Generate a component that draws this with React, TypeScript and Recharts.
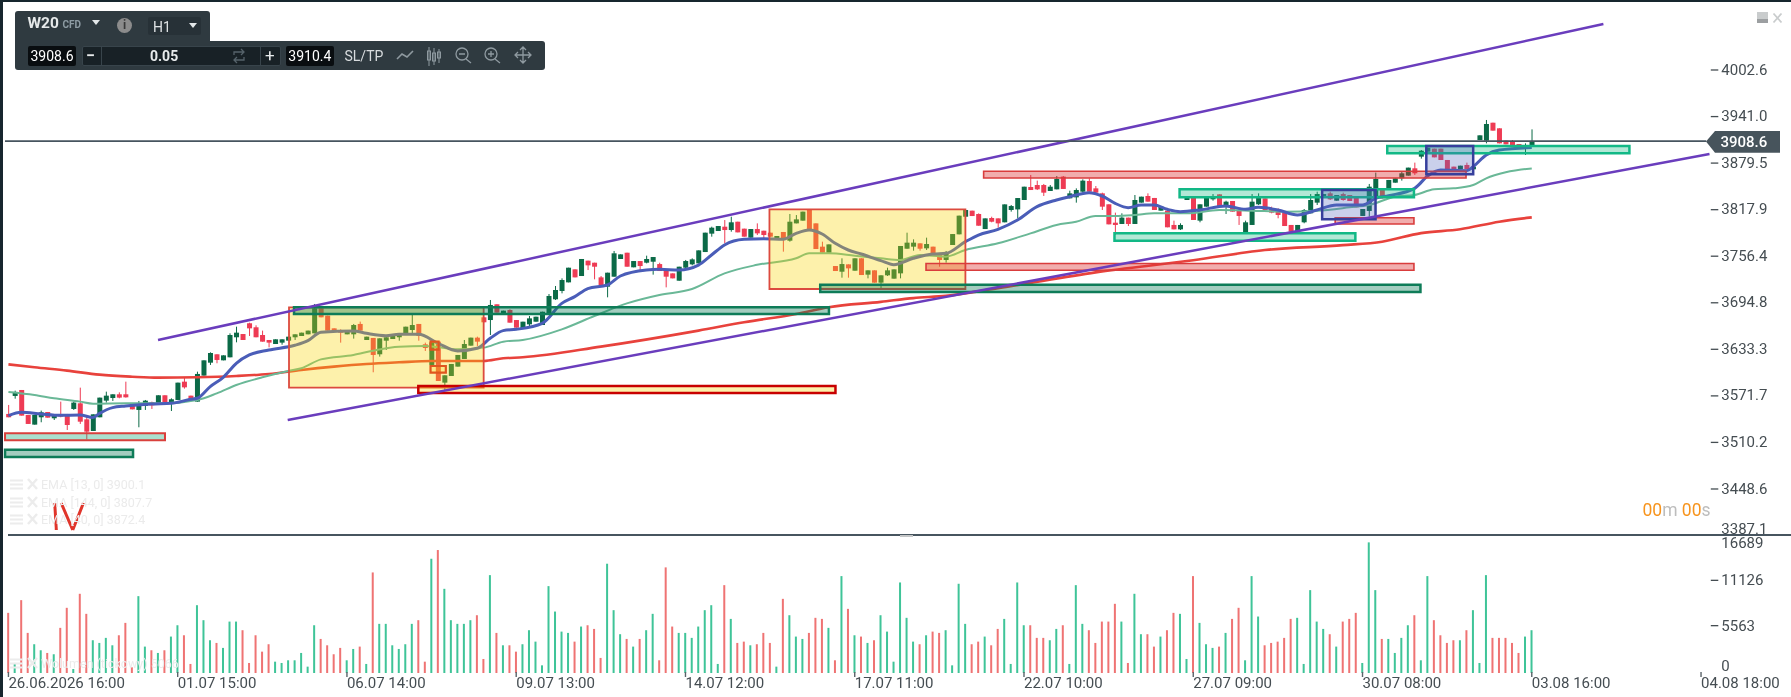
import React from 'react';
import { ComposedChart, Bar, Line, XAxis, YAxis, ReferenceArea, ReferenceLine } from 'recharts';

// Candle bodies and wicks, one value per hourly bar.
const bodyTops = [
3547.8,3576.9,3579.5,3546.5,3546.5,3550,3550.4,3545.1,3547.3,3546.5,
3562.8,3561.9,3540.7,3547.3,3569.4,3572,3573.8,3573.8,3573.8,3561.4,
3561.9,3565.4,3563.2,3572.5,3572.5,3567.2,3589.2,3590.5,3572,3600.7,
3618.7,3628.4,3626.7,3625.3,3652.2,3655.3,3653.5,3667.7,3662.4,3652.2,
3645.6,3646.5,3646.5,3650,3653.1,3655.3,3658,3687.5,3687.5,3677.8,
3661,3658,3658.8,3665.4,3666.8,3650,3648.3,3647.8,3649.2,3652.2,
3654.4,3663.2,3665.4,3666.8,3639.9,3642.5,3643.4,3598.9,3613.9,3625.8,
3640.3,3648.7,3648.7,3675.6,3691.9,3692.8,3684.4,3685.3,3672,3669.8,
3674.2,3676.4,3683,3703.8,3711.7,3724.9,3741.2,3739,3752.7,3750.5,
3747.8,3728.4,3734.6,3760.2,3758.8,3761,3750,3750,3752.7,3755.3,
3746,3738.1,3733.7,3742.5,3750,3752.2,3764.1,3787.5,3794.1,3796.3,
3795.4,3801.2,3802,3792.8,3792.3,3792.3,3790.1,3787.5,3783.1,3788.4,
3802,3805.1,3815.3,3817.5,3799.8,3769,3772,3743.4,3746,3745.6,
3753.6,3753.6,3737.7,3737.7,3731.1,3737.7,3739,3769.9,3774.3,3774.3,
3773.4,3772.5,3769,3760.2,3761.9,3785.7,3810,3817.5,3816.6,3812.2,
3806.4,3806.9,3806.4,3824.9,3822.7,3833.3,3848.3,3847.9,3850.5,3850.5,
3848.3,3858.5,3861.6,3839.5,3843.9,3856.3,3855.8,3846.1,3839.5,3825,
3800.7,3807.4,3807.4,3830.7,3835.1,3836,3833.4,3821.9,3816.6,3797.7,
3797.7,3835.1,3833.8,3825,3833.8,3836,3838.2,3828.5,3829.4,3817.5,
3801.2,3828.5,3833.8,3832.9,3818.8,3816.6,3814,3797.7,3797.7,3817.5,
3830.7,3838.6,3838.6,3839.5,3837.3,3838.6,3837.3,3834.2,3818.8,3848.3,
3858.5,3845.3,3857.2,3859.4,3866,3873.5,3872.6,3895.9,3899.9,3898.6,
3898.6,3883.6,3874.8,3876.1,3877,3874.8,3916.2,3931.2,3932.9,3925.5,
3909.2,3907.8,3904.7,3903.4,3908.6];

const bodyBottoms = [
3543.4,3571.6,3545.6,3534.6,3533.7,3543.4,3542.9,3542.1,3544.3,3533.2,
3554.4,3537.6,3524.4,3525.3,3543.4,3565.4,3568.9,3569.4,3569.8,3553.9,
3553.1,3558.4,3559.2,3561.9,3561.9,3561,3566.3,3583,3565.4,3564.1,
3598.5,3615.6,3619.2,3618.7,3622.7,3649.2,3645.6,3661,3649.2,3643.4,
3642.1,3640.3,3642.1,3644.7,3649.2,3650.9,3653.1,3654.4,3675.6,3658,
3656.6,3655.3,3653.1,3653.1,3658,3645.6,3625.8,3626.7,3644.7,3646.9,
3649.2,3654.4,3658.8,3650.9,3635,3612.6,3591.4,3589.2,3598,3610.4,
3620.5,3638.1,3643.4,3669,3672,3681.8,3678.7,3668.5,3661.9,3661,
3666.3,3669.8,3665.4,3680.8,3699.4,3710.4,3721.8,3728.4,3730.2,3744.3,
3742.5,3718.3,3716.1,3729.3,3752.7,3742.5,3741.7,3743.4,3747.8,3749.1,
3736.8,3729.3,3727.1,3724,3741.2,3745.6,3746.9,3761.9,3786.2,3789.7,
3791,3791,3787.9,3782.2,3780.9,3786.6,3784.4,3782.2,3778.7,3777.8,
3776.9,3799.8,3803.4,3789.7,3765.9,3761,3761,3736.8,3735.9,3740.3,
3737.2,3731.5,3732,3721.4,3721.4,3731.1,3726.7,3733.7,3766.3,3769,
3766.3,3766.8,3760.2,3751.4,3751.4,3771.2,3785.3,3808.6,3809.5,3796.7,
3792.3,3802,3799.8,3801.2,3817.5,3818.3,3830.7,3843.9,3844.8,3840.4,
3842.6,3844.8,3845.3,3832.9,3834.2,3841.7,3841.7,3840.4,3821.9,3798.5,
3797.7,3799,3799,3799,3827.2,3828.5,3817.5,3816.6,3794.6,3791.9,
3791.9,3830.7,3804.3,3803.4,3821.9,3831.6,3821.9,3822.8,3815.3,3809.6,
3787.5,3797.7,3825,3817.5,3814,3810.9,3796.3,3788.8,3788.8,3801.2,
3813.1,3827.2,3834.2,3831.6,3829.8,3830.7,3829.4,3821,3809.6,3816.2,
3832.9,3832.9,3843.9,3853.6,3859.4,3862.9,3866,3888,3894.6,3887.1,
3883.6,3871.3,3869.5,3871.3,3871.3,3871.3,3910,3909.2,3922.4,3905.6,
3904.3,3902.5,3902.5,3899,3903.4];

const highs = [
3559.7,3578.6,3579.5,3546.5,3546.5,3552.2,3550.4,3546.5,3564.1,3547.8,
3564.1,3582.6,3544.3,3547.3,3569.4,3577.3,3573.8,3576.4,3590.5,3561.4,
3565,3566.3,3564.1,3572.5,3572.5,3568.5,3589.2,3596.3,3572,3603.7,
3618.7,3629.3,3626.7,3625.3,3654.4,3663.2,3653.5,3668.5,3665,3658,
3645.6,3646.5,3646.5,3650,3653.1,3655.3,3658,3693.2,3687.5,3677.8,
3661,3659.7,3658.8,3666.8,3669.9,3650,3648.3,3647.8,3650.9,3652.2,
3654.4,3663.2,3678.7,3666.8,3642.1,3642.5,3643.4,3598.9,3613.9,3625.8,
3645.6,3648.7,3650,3675.6,3698.5,3692.8,3684.4,3686.2,3672,3669.8,
3677.3,3676.4,3683,3706.4,3717,3727.1,3741.2,3739,3752.7,3750.5,
3747.8,3730.2,3734.6,3763.3,3758.8,3761,3750,3750,3757.1,3755.3,
3747.8,3738.1,3733.7,3742.5,3751.4,3753.6,3764.1,3787.5,3795.4,3796.3,
3804.2,3808.6,3802,3792.8,3792.3,3799.8,3790.1,3787.5,3783.1,3788.4,
3812.2,3810.8,3815.3,3817.5,3799.8,3775.6,3772,3743.4,3753.6,3745.6,
3753.6,3753.6,3737.7,3737.7,3731.1,3741.2,3739,3769.9,3787.5,3778.7,
3773.4,3780.9,3769,3760.2,3763.3,3785.7,3810,3817.5,3816.6,3813,
3806.4,3808.6,3806.4,3824.9,3824.1,3833.3,3848.3,3863.8,3856.3,3851.9,
3850.5,3862.4,3862.4,3843,3846.1,3858,3859.4,3849.2,3840.4,3825,
3814,3813.1,3807.4,3837.3,3835.1,3839.5,3833.4,3821.9,3816.6,3803.4,
3799.9,3835.1,3833.8,3825,3833.8,3838.6,3838.2,3829.8,3829.4,3819.7,
3803.4,3838.6,3839.5,3832.9,3821.9,3819.7,3814,3797.7,3797.7,3818.8,
3838.6,3841.7,3838.6,3841.7,3837.3,3840.4,3837.3,3834.2,3818.8,3851.9,
3866.9,3845.3,3857.2,3859.4,3867.7,3873.5,3880.1,3896.8,3899.9,3898.6,
3898.6,3883.6,3874.8,3876.1,3880.1,3874.8,3916.2,3936.5,3932.9,3925.5,
3909.2,3910,3904.7,3905.6,3924.1];

const lows = [
3543.4,3568,3545.6,3534.6,3533.7,3536.8,3542.9,3539.8,3543.4,3526.6,
3553.1,3534.6,3514.3,3525.3,3543.4,3562.8,3565,3568.5,3569.4,3553.9,
3530.2,3553.1,3554.4,3561.9,3561.9,3551.7,3566.3,3581.3,3565.4,3564.1,
3598.5,3612.6,3614.8,3618.7,3622.7,3642.5,3645.6,3650.9,3649.2,3643.4,
3635.9,3640.3,3639.4,3644.7,3645.6,3650.9,3653.1,3654.4,3675.6,3658,
3656.6,3642.1,3653.1,3647.4,3658,3645.6,3602.9,3623.6,3632.4,3646.9,
3644.7,3654.4,3654.4,3644.7,3631.1,3612.6,3591.4,3579.5,3598,3610.4,
3620.5,3638.1,3637.7,3669,3652.2,3681.8,3678.7,3668.5,3661.9,3661,
3664.1,3669.8,3665.4,3680,3698.5,3707.3,3721.8,3728.4,3730.2,3738.1,
3725.8,3717,3702,3729.3,3752.7,3742.5,3741.7,3737.2,3746.9,3732,
3736.8,3715.2,3727.1,3724,3739,3744.3,3746.9,3761.9,3782.2,3789.7,
3773.4,3788.8,3787.9,3782.2,3780.9,3784.4,3777.8,3782.2,3778.7,3762.4,
3775.6,3799.8,3803.4,3789.7,3765.9,3761,3761,3736.8,3728,3728,
3737.2,3731.5,3727.1,3721.4,3711.7,3730.2,3726.7,3727.1,3766.3,3763.7,
3763.7,3764.6,3759.3,3742.5,3747.8,3771.2,3785.3,3808.6,3809.5,3796.7,
3792.3,3801.2,3794.1,3801.2,3815.3,3806.4,3830.7,3843.9,3843.9,3836,
3842.6,3844.8,3845.3,3832.9,3827.2,3840.4,3841.7,3839.5,3817.5,3798.5,
3784.4,3799,3796.3,3799,3827.2,3828.5,3817.5,3816.6,3794.6,3791.9,
3791,3830.7,3804.3,3801.2,3821.9,3829.8,3821.9,3812.2,3815.3,3797.7,
3787.5,3797.7,3824.1,3817.5,3813.1,3806.5,3796.3,3788.8,3788.8,3799.9,
3813.1,3824.1,3834.2,3830.7,3829.8,3829.8,3829.4,3821,3809.6,3808.7,
3832.9,3832.9,3843.9,3853.6,3856.3,3862.9,3863.8,3885.4,3894.6,3887.1,
3883.6,3871.3,3869.5,3871.3,3871.3,3871.3,3910,3905.6,3922.4,3905.6,
3904.3,3902.5,3902.5,3890.2,3902.1];

// g = rising bar, r = falling bar, for candle and volume alike.
const directions = (
'rgrrggrgrr' + 'grrggggrrr' + 'ggrgrggrrg' + 'ggrgggrrrr' + 'rgggggggrr' +
'rrggrgrggg' + 'gggrrgrggg' + 'ggrrgrgrrg' + 'gggggggrgr' + 'rrgggrgrgg' +
'rrrggggggg' + 'rgrrgrrrgr' + 'gggrrrgrgr' + 'grgrgggggg' + 'rgrrggggrr' +
'grrggggrrr' + 'ggrgggrrrr' + 'rgrggrrgrr' + 'ggrgggrgrr' + 'gggrrrrrgg' +
'gggrgrrrgg' + 'grggggrggr' + 'rrrgrgggrr' + 'rrrgg').split('');

const volumes = [
7380,1230,8940,4920,3530,2790,2460,2300,5540,8000,
490,9720,7260,4020,3690,4310,3400,4630,6150,700,
9430,3240,2790,2460,2790,4470,5860,4630,1110,8320,
6480,4020,3690,3080,6310,6310,5250,1230,4630,2620,
3530,1390,1230,1560,1560,2460,780,5860,4180,3400,
2300,3080,1560,2950,3240,1110,12340,6030,6030,3400,
2950,3530,6030,6480,1390,14020,15090,10330,6480,6030,
6030,6480,7090,1720,12010,4920,3400,3400,2620,3530,
5250,3850,940,10660,7540,5080,4920,3850,5700,5860,
5410,1850,13410,7710,4760,4180,3240,4180,5250,7260,
1560,12960,5700,4920,4920,4310,5700,7710,8320,1110,
10780,6640,3690,3850,3400,3530,4920,3690,780,9100,
7090,4470,4180,4920,6770,6640,5540,1560,11890,7870,
4630,4470,3690,4020,7090,5080,1390,11110,6770,3850,
3530,4630,5080,4920,5250,940,10950,6030,3530,3850,
4470,3400,5410,6640,1110,11110,5860,5860,4310,4310,
4020,5410,5860,1110,10780,6030,5250,3690,6310,6310,
8490,6310,1230,9720,4760,4760,3240,4470,5250,7380,
7260,1720,11890,6150,3530,3080,3240,4920,6640,8000,
1560,11890,6930,3400,3690,3850,4310,6640,6770,1110,
10170,6310,5410,4760,3240,6310,6640,7380,1230,16030,
10170,4180,4180,2460,4310,5860,7090,1560,11890,6480,
4630,3690,4020,4020,5250,7710,1230,12010,4310,4310,
4310,3690,2460,4470,5250];

// [bar, price] readings along each moving average.
const ema13Points = [
[0,3545.6],[2,3550],[5,3547.8],[8,3546],[11,3546.5],[13,3543],[14,3548.6],[16,3556.2],[18,3558.4],[22,3561],[25,3561.9],[28,3567.2],[29,3568.5],[31,3584],[33,3596.3],[35,3614.8],[37,3625.8],[40,3632.4],[44,3638.6],[46,3644.7],[48,3655.8],[53,3657.5],[55,3654.4],[58,3651.3],[60,3653.1],[63,3653.1],[66,3641.2],[69,3631.1],[72,3634.6],[74,3647.8],[76,3658],[78,3659.7],
[82,3667.6],[85,3694],[87,3702.9],[89,3713.5],[92,3718.3],[94,3730.2],[98,3738.1],[100,3739],[103,3738.1],[106,3744.7],[108,3758],[110,3771.2],[113,3778.7],[116,3779.6],[119,3778.7],[121,3786.6],[123,3791],[125,3785.7],[127,3773.4],[129,3764.6],[131,3759.3],[134,3750.5],[136,3745.2],[139,3753.6],[142,3759.3],[144,3760.2],[147,3775.6],[149,3784.4],[152,3791.9],[155,3804.2],[158,3821.9],
[161,3830.7],[163,3835.1],[166,3840.4],[168,3836],[170,3826.3],[172,3820.6],[174,3824.1],[176,3824.1],[178,3818.4],[180,3815.3],[183,3817.5],[187,3822.8],[190,3818.4],[192,3821],[195,3817.5],[198,3810.9],[201,3817.5],[204,3824.1],[208,3824.1],[210,3832.9],[212,3836.4],[216,3846.1],[218,3862.4],[220,3870.4],[224,3869.5],[225,3874.8],[227,3890.2],[229,3896.8],[234,3900.1]];

const ema40Points = [
[0,3576.9],[4,3572.9],[7,3568.5],[11,3564.1],[13,3561.4],[18,3561.9],[24,3561.9],[29,3566.3],[32,3575.1],[35,3586.1],[39,3596.3],[43,3604.6],[45,3608.2],[48,3620],[53,3625.8],[56,3631.5],[60,3636.8],[64,3637.7],[69,3633.3],[73,3635.5],[76,3643.4],[79,3645.6],
[85,3659.7],[90,3677.3],[95,3694],[100,3705.1],[105,3713],[110,3733.7],[115,3745],[121,3753.6],[123,3760.2],[126,3760.2],[130,3757.1],[134,3753.6],[137,3751.4],[140,3758],[144,3755.8],[147,3764.6],[152,3773.4],[157,3786.6],
[161,3797.7],[164,3802],[167,3809.6],[170,3809.6],[173,3810.9],[176,3813.1],[181,3813.1],[186,3817.5],[191,3816.6],[196,3815.3],[201,3816.6],[206,3821],[209,3824.1],[213,3835.1],[216,3837.3],[219,3844.8],[222,3846.1],[225,3850.5],[227,3859.4],[230,3867.3],[234,3872.4]];

const ema144Points = [
[0,3613.4],[4,3609.5],[9,3605.1],[14,3599.8],[19,3597.1],[23,3595.8],[29,3596.3],[35,3598],[40,3600.7],[45,3606],[50,3610.4],[55,3613.9],[60,3616.1],[65,3617.8],[73,3617.8],[76,3621.4],[79,3622.7],[91,3636.8],[106,3658],[113,3669],[121,3680],[126,3689],[134,3696],[139,3701],[144,3704],[152,3714],[167,3735],[182,3751],[193,3764.6],[205,3771],[211,3775.6],[217,3786.9],[223,3792],[229,3802],[234,3807.7]];

// Drawn zones: [bar from, bar to, price low, price high]
const yellowBoxes = [[43.1,73,3582.5,3688.8],[116.9,147,3713,3818.4]];
const darkGreenZones = [[-0.52,19.14,3490.9,3500.6],[43.87,126.04,3680,3688.8],[124.7,216.9,3709.1,3718.7]];
const brightGreenZones = [[169.9,206.9,3776.9,3786.7],[179.9,215.9,3834.3,3844.9],[211.8,249,3892.5,3902.1]];
const redZones = [[149.8,223.9,3859.8,3868.7],[140.95,215.9,3737.8,3746.8],[203.8,215.9,3799,3807.3]];
const redOnGreenZones = [[-0.52,24.05,3513,3522.2]];
const redOnYellowZones = [[62.96,127.04,3575.5,3584.8]];
const blueBoxes = [[201.8,210,3805.2,3843.9],[217.8,225,3864.7,3902.1]];
const orangeBoxes = [[64.84,66.08,3632.8,3643.4],[64.84,67.19,3602.4,3611.2]];

// Trend lines and the hand-drawn mark: [bar, price, bar, price]
const channelLines = [[22.98,3645.6,245,4063.4],[42.9,3539.8,261.3,3891.5]];
const handMarks = [[7.11,3430,7.36,3394.4],[8.11,3430,9.88,3394.4],[11.52,3430,9.88,3394.4]];

const lastPrice = 3908.6;
const priceTicks = [4002.6,3941.0,3879.5,3817.9,3756.4,3694.8,3633.3,3571.7,3510.2,3448.6,3387.1];
const volumeTicks = [0,5563,11126,16689];
const timeTicks = [0,26,52,78,104,130,156,182,208,234,260];
const timeLabels = ['26.06.2026 16:00','01.07 15:00','06.07 14:00','09.07 13:00','14.07 12:00','17.07 11:00','22.07 10:00','27.07 09:00','30.07 08:00','03.08 16:00','04.08 18:00'];
const legendRows = ['EMA [13, 0] 3900.1','EMA [144, 0] 3807.7','EMA [40, 0] 3872.4'];
const volumeLegend = 'Wolumen (tickowy) 5066';

const FONT = 'Roboto, sans-serif';
const TEXT = '#454d52';
const UP = '#0b6a47';
const DOWN = '#ee3b54';
const VOL_UP = '#3fc498';
const VOL_DOWN = '#ef7373';
const CHROME = '#2f3a40';
const AXIS_LINE = '#47555f';

const rows: any[] = directions.map((dir, i) => ({
  i, dir,
  open: dir === 'g' ? bodyBottoms[i] : bodyTops[i],
  close: dir === 'g' ? bodyTops[i] : bodyBottoms[i],
  high: highs[i], low: lows[i],
  wick: [lows[i], highs[i]],
  volume: volumes[i],
}));
const attach = (pts: number[][], key: string) => pts.forEach(([i, v]) => { rows[i][key] = v; });
attach(ema13Points, 'ema13');
attach(ema40Points, 'ema40');
attach(ema144Points, 'ema144');

const X_DOMAIN: [number, number] = [-0.68, 261.5];
const PRICE_DOMAIN: [number, number] = [3387.1, 4092.5];

function Candle(props: any) {
  const { x, y, width, height, payload } = props;
  if (!payload) return null;
  const span = payload.high - payload.low;
  const perPrice = span > 0 ? height / span : 0;
  const top = y + (payload.high - Math.max(payload.open, payload.close)) * perPrice;
  const bot = y + (payload.high - Math.min(payload.open, payload.close)) * perPrice;
  const color = payload.dir === 'g' ? UP : DOWN;
  const cx = x + width / 2;
  return (
    <g>
      <line x1={cx} x2={cx} y1={y} y2={y + height} stroke={color} strokeWidth={1} />
      <rect x={x} y={top} width={width} height={Math.max(bot - top, 1)} fill={color} />
    </g>
  );
}

function VolumeBar(props: any) {
  const { x, y, width, height, payload } = props;
  return <rect x={x} y={y} width={width} height={height} fill={payload.dir === 'g' ? VOL_UP : VOL_DOWN} />;
}

function PriceTick(props: any) {
  const { x, y, payload } = props;
  const edge = payload.value === 3387.1;
  return (
    <g>
      {!edge && <line x1={x} x2={x + 7.5} y1={y} y2={y} stroke={TEXT} strokeWidth={1.3} />}
      <text x={x + 10.5} y={edge ? y - 7 : y - 0.8} dy="0.36em" fontFamily={FONT} fontSize={15} fill={TEXT}>
        {payload.value.toFixed(1)}
      </text>
    </g>
  );
}

function VolumeTick(props: any) {
  const { x, y, payload } = props;
  const v = payload.value;
  const edge = v === 0 || v === 16689;
  const ty = v === 0 ? y - 7.5 : v === 16689 ? y + 6 : y - 2.5;
  return (
    <g>
      {!edge && <line x1={x} x2={x + 7.5} y1={y - 2} y2={y - 2} stroke={TEXT} strokeWidth={1.3} />}
      <text x={x + 10.5} y={ty} dy="0.36em" fontFamily={FONT} fontSize={15} fill={TEXT}>{v}</text>
    </g>
  );
}

function TimeTick(props: any) {
  const { x, payload, index } = props;
  const top = 135;
  return (
    <g>
      <line x1={x} x2={x} y1={top} y2={top + 5} stroke="#5a646a" strokeWidth={1.4} />
      <text x={x} y={146} dy="0.36em" fontFamily={FONT} fontSize={15} fill={TEXT}>{timeLabels[index]}</text>
    </g>
  );
}

function PaneTick(props: any) {
  const { x } = props;
  return <line x1={x} x2={x} y1={533} y2={535} stroke={AXIS_LINE} strokeWidth={1} />;
}

const zoneProps = (stroke: string, strokeWidth: number, fill: string, fillOpacity: number) => ({
  stroke, strokeWidth, fill, fillOpacity, ifOverflow: 'visible' as const, zIndex: 700,
});

const renderZones = (list: number[][], style: any, tag: string) =>
  list.map((z, k) => <ReferenceArea key={tag + k} x1={z[0]} x2={z[1]} y1={z[2]} y2={z[3]} {...style} />);

const box = (left: number, top: number, width: number, height: number, extra: any = {}): any => ({
  position: 'absolute', left, top, width, height, ...extra,
});

function Caret({ x, y, w = 9, h = 5, color = '#e4e8ea' }: any) {
  return <div style={box(x, y, 0, 0, { borderLeft: `${w / 2}px solid transparent`, borderRight: `${w / 2}px solid transparent`, borderTop: `${h}px solid ${color}` })} />;
}

function Toolbar() {
  const label = { position: 'absolute', fontFamily: FONT, lineHeight: 1, whiteSpace: 'nowrap' } as any;
  const stroke = '#8f9aa0';
  return (
    <>
      <div style={box(15, 11, 195, 32, { background: CHROME, borderRadius: '3px 3px 0 0' })} />
      <div style={box(15, 41, 530, 29, { background: CHROME, borderRadius: '0 3px 3px 3px' })} />
      <span style={{ ...label, left: 27.5, top: 16, fontSize: 15.5, fontWeight: 700, color: '#e6e9ea' }}>W20</span>
      <span style={{ ...label, left: 62.5, top: 20, fontSize: 10, fontWeight: 700, color: '#8d9ba3' }}>CFD</span>
      <Caret x={92} y={20} />
      <div style={box(117, 18, 15, 15, { background: '#8c8c8c', borderRadius: '50%', color: '#3a3a3a', fontFamily: FONT, fontSize: 12, fontWeight: 700, lineHeight: '15px', textAlign: 'center' })}>i</div>
      <div style={box(147.7, 16.7, 53.6, 18.6, { background: '#273137', borderRadius: 2 })} />
      <span style={{ ...label, left: 153, top: 19.5, fontSize: 14, color: '#dfe3e5' }}>H1</span>
      <Caret x={188.5} y={23} />

      <div style={box(28, 46, 48, 20, { background: '#090d10', borderRadius: 2, color: '#fff', fontFamily: FONT, fontSize: 14, lineHeight: '20px', textAlign: 'center' })}>3908.6</div>
      <div style={box(81.5, 46, 199, 20, { background: '#182126', border: '1px solid #38444b', borderRadius: 2, boxSizing: 'border-box' })} />
      <div style={box(100.5, 46, 1, 20, { background: '#38444b' })} />
      <div style={box(260, 46, 1, 20, { background: '#38444b' })} />
      <span style={{ ...label, left: 86, top: 48, fontSize: 16, fontWeight: 700, color: '#e8ebec' }}>−</span>
      <span style={{ ...label, left: 150, top: 49, fontSize: 14, fontWeight: 700, color: '#e8ebec' }}>0.05</span>
      <span style={{ ...label, left: 265, top: 47, fontSize: 17, color: '#e8ebec' }}>+</span>
      <div style={box(285.9, 46, 48, 20, { background: '#090d10', borderRadius: 2, color: '#fff', fontFamily: FONT, fontSize: 14, lineHeight: '20px', textAlign: 'center' })}>3910.4</div>
      <span style={{ ...label, left: 344.5, top: 48.5, fontSize: 14, color: '#d8dcde' }}>SL/TP</span>
      <svg style={box(0, 0, 560, 80)} fill="none" stroke={stroke} strokeWidth={1.3}>
        <path d="M234 55v-3h10M241 49l3 3-3 3M244 57v3h-10M237 57l-3 3 3 3" stroke="#56636b" />
        <path d="M397 59l5-5 5 3 6-6" strokeWidth={1.6} />
        <path d="M429 47v19M434 48v17M439 49v14" strokeWidth={1} />
        <rect x="427.5" y="51" width="3" height="9" strokeWidth={1} />
        <rect x="432.5" y="53" width="3" height="8" strokeWidth={1} />
        <rect x="437.5" y="52" width="3" height="6" strokeWidth={1} />
        <circle cx="462" cy="54" r="6" /><path d="M466 59l5 4M459 54h6" />
        <circle cx="491" cy="54" r="6" /><path d="M495 59l5 4M488 54h6M491 51v6" />
        <path d="M515 55h16M523 47v16M520 50l3-3 3 3M520 60l3 3 3-3M518 52l-3 3 3 3M528 52l3 3-3 3" />
      </svg>
    </>
  );
}

function FaintRows() {
  const text = { position: 'absolute', left: 41, fontFamily: FONT, fontSize: 12.5, lineHeight: '14px', color: '#ebebeb', whiteSpace: 'nowrap' } as any;
  const tops = [478, 496, 513];
  return (
    <>
      {legendRows.map((t, k) => <span key={t} style={{ ...text, top: tops[k] }}>{t}</span>)}
      <span style={{ ...text, top: 657 }}>{volumeLegend}</span>
      <svg style={box(0, 0, 50, 697)} stroke="#ececec" fill="none">
        {[479, 497, 514, 658].map((y) => (
          <g key={y}>
            <path d={`M10 ${y + 1.5}h13M10 ${y + 5.5}h13M10 ${y + 9.5}h13`} strokeWidth={2} />
            <path d={`M28 ${y}l9 10M37 ${y}l-9 10`} strokeWidth={2.5} />
          </g>
        ))}
      </svg>
    </>
  );
}

export default function App() {
  return (
    <div style={box(0, 0, 1791, 697, { background: '#fff', overflow: 'hidden', filter: 'blur(0.4px)' })}>
      <div style={box(0, 0, 1791, 537)}>
        <ComposedChart width={1791} height={537} data={rows} margin={{ top: 2, right: 0, bottom: 1.5, left: 4 }}>
          <XAxis dataKey="i" type="number" domain={X_DOMAIN} ticks={timeTicks} interval={0} height={0} axisLine={false} tickLine={false} tick={<PaneTick />} allowDataOverflow />
          <YAxis orientation="right" type="number" domain={PRICE_DOMAIN} ticks={priceTicks} interval={0} width={80.2} axisLine={false} tickLine={false} tickSize={0} tickMargin={0} tick={<PriceTick />} allowDataOverflow />
          <Bar dataKey="wick" barSize={5} shape={<Candle />} isAnimationActive={false} />
          <Line dataKey="ema144" type="monotone" connectNulls dot={false} activeDot={false} stroke="#e8423c" strokeWidth={2.6} isAnimationActive={false} />
          <Line dataKey="ema40" type="monotone" connectNulls dot={false} activeDot={false} stroke="#6ab897" strokeWidth={2} isAnimationActive={false} />
          <Line dataKey="ema13" type="monotone" connectNulls dot={false} activeDot={false} stroke="#4a5db8" strokeWidth={3} isAnimationActive={false} />
          {renderZones(yellowBoxes, zoneProps('#dc4a3e', 1.8, '#fad400', 0.33), 'y')}
          {renderZones(darkGreenZones, zoneProps('#0e7c58', 2.5, '#0e7c58', 0.38), 'dg')}
          {renderZones(brightGreenZones, zoneProps('#12b886', 2.5, '#14b982', 0.33), 'bg')}
          {renderZones(redZones, zoneProps('#d93c3c', 1.6, '#dc3232', 0.4), 'r')}
          {renderZones(redOnGreenZones, zoneProps('#d9403c', 2, '#14a878', 0.36), 'rg')}
          {renderZones(redOnYellowZones, zoneProps('#c80000', 2.5, '#fad400', 0.33), 'ry')}
          {renderZones(blueBoxes, zoneProps('#363f9c', 2.5, '#5064be', 0.3), 'b')}
          {renderZones(orangeBoxes, zoneProps('#e0561f', 2.2, '#fad400', 0.2), 'o')}
          {channelLines.map((l, k) => (
            <ReferenceLine key={'c' + k} segment={[{ x: l[0], y: l[1] }, { x: l[2], y: l[3] }]} stroke="#6a3dbd" strokeWidth={2.5} ifOverflow="visible" {...({ zIndex: 800 } as any)} />
          ))}
          {handMarks.map((l, k) => (
            <ReferenceLine key={'h' + k} segment={[{ x: l[0], y: l[1] }, { x: l[2], y: l[3] }]} stroke="#e0352b" strokeWidth={3} ifOverflow="visible" {...({ zIndex: 800 } as any)} />
          ))}
          <ReferenceLine segment={[{ x: X_DOMAIN[0] + 0.15, y: lastPrice }, { x: 260.8, y: lastPrice }]} stroke={AXIS_LINE} strokeWidth={1.6} ifOverflow="visible" {...({ zIndex: 800 } as any)} />
        </ComposedChart>
      </div>

      <div style={box(0, 537, 1791, 160)}>
        <ComposedChart width={1791} height={160} data={rows} margin={{ top: 0, right: 0, bottom: 0, left: 4 }}>
          <XAxis dataKey="i" type="number" domain={X_DOMAIN} ticks={timeTicks} interval={0} height={24} axisLine={false} tickLine={false} tick={<TimeTick />} allowDataOverflow />
          <YAxis orientation="right" type="number" domain={[0, 16689]} ticks={volumeTicks} interval={0} width={80.2} axisLine={false} tickLine={false} tickSize={0} tickMargin={0} tick={<VolumeTick />} allowDataOverflow />
          <Bar dataKey="volume" barSize={2} shape={<VolumeBar />} isAnimationActive={false} />
        </ComposedChart>
      </div>

      <div style={box(7.6, 534.2, 1784, 1.5, { background: AXIS_LINE })} />
      <div style={box(900, 534.5, 13, 2.5, { background: '#c4c6c7' })} />
      <div style={box(0, 0, 3, 697, { background: '#17262e' })} />
      <div style={box(0, 0, 1791, 1.5, { background: '#17262e' })} />

      <FaintRows />
      <Toolbar />

      <svg style={box(1700, 125, 91, 34)}>
        <path d="M6 16.5L15 6H80V27.7H15Z" fill="#47545c" />
      </svg>
      <span style={{ position: 'absolute', left: 1720.5, top: 133, fontFamily: FONT, fontSize: 15, lineHeight: '18px', fontWeight: 500, color: '#fff' }}>{lastPrice.toFixed(1)}</span>

      <span style={{ position: 'absolute', left: 1642.5, top: 500, fontFamily: FONT, fontSize: 17.5, lineHeight: '20px', whiteSpace: 'pre', color: '#bdbdbd' }}>
        <span style={{ color: '#f7941d' }}>00</span>m <span style={{ color: '#f7941d' }}>00</span>s
      </span>

      <svg style={box(1750, 6, 41, 24)}>
        <rect x="7" y="6" width="11" height="11" fill="#c9cccd" />
        <rect x="7" y="13" width="11" height="4" fill="#9c9fa1" />
        <path d="M23.5 7.5l8 9M31.5 7.5l-8 9" stroke="#c9cccd" strokeWidth={1.8} />
      </svg>
    </div>
  );
}
